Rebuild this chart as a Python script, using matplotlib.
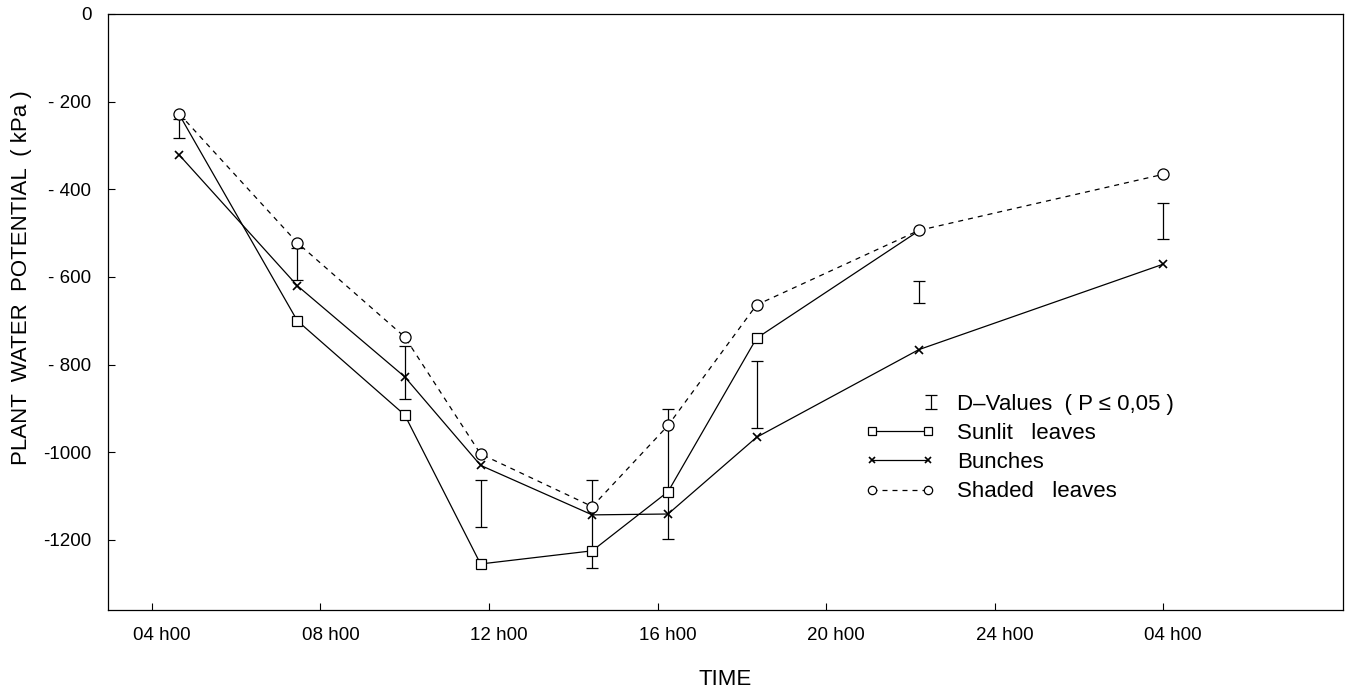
import matplotlib
matplotlib.use("Agg")
import matplotlib.pyplot as plt
import matplotlib.transforms as mtransforms
from matplotlib.legend_handler import HandlerErrorbar

plt.rcParams["font.family"] = ["Liberation Sans", "DejaVu Sans"]

# sampling times in hours (04h00 of day 2 = 28)
times = [4.65, 7.45, 10.0, 11.8, 14.45, 16.25, 18.35, 22.2, 28.0]
# plant water potential (kPa)
sunlit = [-230, -700, -915, -1255, -1225, -1090, -740, -495]
bunches = [-322, -620, -828, -1030, -1143, -1141, -966, -766, -571]
shaded = [-228, -522, -737, -1004, -1124, -939, -664, -494, -366]
# D-values (LSD, P <= 0.05) bars: upper and lower ends
lsd_top = [-240, -535, -758, -1064, -1063, -901, -793, -610, -432]
lsd_bottom = [-282, -607, -878, -1170, -1265, -1198, -945, -659, -514]

xticks = [4, 8, 12, 16, 20, 24, 28]
xticklabels = ["04 h00", "08 h00", "12 h00", "16 h00", "20 h00", "24 h00", "04 h00"]
yticks = [0, -200, -400, -600, -800, -1000, -1200]
yticklabels = ["0", "- 200", "- 400", "- 600", "- 800", "-1000", "-1200"]


class RightBar(HandlerErrorbar):
    # legend sample: the I-bar sits at the right end of the handle
    def get_xdata(self, legend, xdescent, ydescent, width, height, fontsize):
        x = [width - xdescent - 0.2 * fontsize]
        return x, x


fig = plt.figure(figsize=(13.53, 6.88), dpi=100)
ax = fig.add_axes([0.0798, 0.1134, 0.9128, 0.8663])

lsd_mid = [(t + b) / 2 for t, b in zip(lsd_top, lsd_bottom)]
lsd_half = [(t - b) / 2 for t, b in zip(lsd_top, lsd_bottom)]
eb = ax.errorbar(times, lsd_mid, yerr=lsd_half, fmt="none", ecolor="k",
                 elinewidth=0.9, capsize=4, capthick=0.9, zorder=2)

l_sun, = ax.plot(times[:len(sunlit)], sunlit, "-", color="k", lw=0.9,
                 marker="s", ms=7, mfc="white", mec="k", mew=0.9,
                 markevery=[1, 2, 3, 4, 5, 6], zorder=3)
l_bun, = ax.plot(times, bunches, "-", color="k", lw=0.9,
                 marker="x", ms=6, mec="k", mew=1.2, zorder=3)
l_sha, = ax.plot(times, shaded, "--", color="k", lw=0.9, dashes=(4, 4),
                 marker="o", ms=8, mfc="white", mec="k", mew=0.9, zorder=4)

ax.set_xlim(2.956, 32.27)
ax.set_ylim(-1360, 0)
ax.set_xticks(xticks)
ax.set_xticklabels(xticklabels)
ax.set_yticks(yticks)
ax.set_yticklabels(yticklabels)
ax.tick_params(direction="in", length=5, width=0.8, labelsize=13.5)
ax.tick_params(axis="x", pad=12)
ax.tick_params(axis="y", pad=12)
shift = mtransforms.ScaledTranslation(10 / 100, 0, fig.dpi_scale_trans)
for lab in ax.get_xticklabels():
    lab.set_transform(lab.get_transform() + shift)
for s in ax.spines.values():
    s.set_linewidth(0.9)

ax.set_xlabel("TIME", fontsize=16, labelpad=18)
ax.set_ylabel("PLANT  WATER  POTENTIAL  ( kPa )", fontsize=16)
ax.yaxis.set_label_coords(-0.0615, 0.557)

leg = ax.legend([eb, l_sun, l_bun, l_sha],
                ["D\u2013Values  ( P \u2264 0,05 )", "Sunlit   leaves", "Bunches", "Shaded   leaves"],
                loc="upper left", bbox_to_anchor=(0.613, 0.363), frameon=False,
                fontsize=16, numpoints=2, handlelength=3.15, handletextpad=1.0,
                borderpad=0, borderaxespad=0, labelspacing=0.37, markerscale=0.75,
                handler_map={eb: RightBar(numpoints=1, xerr_size=0.3)})

fig.savefig("out.png", dpi=100)
